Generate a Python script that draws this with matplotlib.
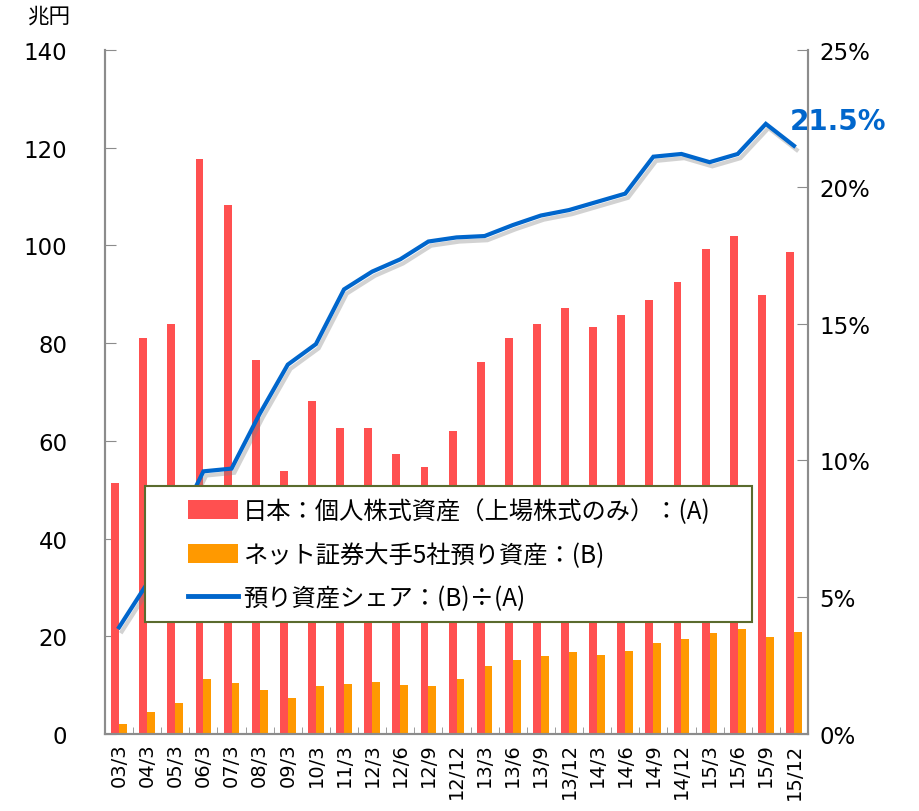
import numpy as np
import matplotlib
matplotlib.use('Agg')
import matplotlib.pyplot as plt
import matplotlib.patheffects as pe
from matplotlib.patches import Rectangle, Patch
from matplotlib.lines import Line2D

plt.rcParams['font.family'] = ['DejaVu Sans', 'Noto Sans CJK JP']

# データ
periods = ['03/3', '04/3', '05/3', '06/3', '07/3', '08/3', '09/3', '10/3', '11/3',
           '12/3', '12/6', '12/9', '12/12', '13/3', '13/6', '13/9', '13/12',
           '14/3', '14/6', '14/9', '14/12', '15/3', '15/6', '15/9', '15/12']
kojin_kabushiki = [51.4, 81.1, 83.9, 117.7, 108.3, 76.6, 53.8, 68.2, 62.6,
                   62.6, 57.3, 54.7, 62.0, 76.2, 81.0, 83.9, 87.1,
                   83.3, 85.7, 88.8, 92.6, 99.3, 101.9, 89.9, 98.6]
net_azukari = [2.0, 4.5, 6.3, 11.3, 10.5, 9.0, 7.4, 9.8, 10.2,
               10.6, 10.0, 9.8, 11.3, 14.0, 15.1, 15.9, 16.7,
               16.2, 16.9, 18.6, 19.4, 20.7, 21.4, 19.8, 20.9]
share_pct = [3.9, 5.5, 7.5, 9.6, 9.7, 11.7, 13.5, 14.25, 16.25,
             16.9, 17.35, 18.0, 18.15, 18.2, 18.6, 18.95, 19.15,
             19.45, 19.75, 21.1, 21.2, 20.9, 21.2, 22.3, 21.5]
last_label = '21.5%'

label_a = '日本：個人株式資産（上場株式のみ）：(A)'
label_b = 'ネット証券大手5社預り資産：(B)'
label_c = '預り資産シェア：(B)÷(A)'

RED = '#FF5050'
ORANGE = '#FF9900'
BLUE = '#0066CC'
GRAY = '#8C8C8C'

fig = plt.figure(figsize=(9.19, 8.12), dpi=100)
ax1 = fig.add_axes([105 / 919, 1 - 735 / 812, (808 - 105) / 919, (735 - 51) / 812])
ax2 = ax1.twinx()

x = np.arange(len(periods))
w = 0.28
ax1.bar(x - 0.14, kojin_kabushiki, width=w, color=RED, zorder=2)
ax1.bar(x + 0.14, net_azukari, width=w, color=ORANGE, zorder=2)

ax1.set_xlim(-0.5, len(periods) - 0.5)
ax1.set_ylim(0, 140)
ax1.set_yticks(np.arange(0, 141, 20))
ax1.set_xticks(x)
ax1.set_xticklabels(periods, rotation=90, fontsize=14)
ax1.set_xticks(np.arange(0.5, len(periods) - 0.5, 1), minor=True)
ax1.tick_params(axis='x', which='major', length=0, pad=6)
ax1.tick_params(axis='x', which='minor', length=5, direction='in', color=GRAY)
ax1.tick_params(axis='y', length=8, direction='in', color=GRAY, labelsize=16.5, pad=27)

line, = ax2.plot(x, share_pct, color=BLUE, lw=3, solid_joinstyle='miter', zorder=3)
line.set_path_effects([pe.SimpleLineShadow(offset=(2, -3), shadow_color='gray', alpha=0.35),
                       pe.Normal()])
ax2.set_ylim(0, 25)
ax2.set_yticks(np.arange(0, 26, 5))
ax2.set_yticklabels([f'{v}%' for v in range(0, 26, 5)])
ax2.tick_params(axis='y', length=8, direction='in', color=GRAY, labelsize=16.5, pad=8)

for ax in (ax1, ax2):
    ax.spines['top'].set_visible(False)
    for s in ('left', 'right', 'bottom'):
        ax.spines[s].set_color(GRAY)
        ax.spines[s].set_linewidth(1.5)

# 凡例
box = Rectangle((145 / 919, 1 - 623 / 812), (752 - 145) / 919, (623 - 487) / 812,
                transform=fig.transFigure, facecolor='white', edgecolor='#5A6B2E',
                linewidth=1.5, zorder=6)
ax2.add_patch(box)
handles = [Patch(facecolor=RED), Patch(facecolor=ORANGE), Line2D([], [], color=BLUE, lw=3.5)]
leg = ax2.legend(handles, [label_a, label_b, label_c], loc='upper left',
                 bbox_to_anchor=(176 / 919, 1 - 487 / 812), bbox_transform=fig.transFigure,
                 frameon=False, handlelength=2.05, handleheight=0.8,
                 handletextpad=0.2, labelspacing=0.72, borderpad=0,
                 prop={'family': ['Noto Sans CJK JP', 'DejaVu Sans'], 'size': 17.5})
leg.set_zorder(7)

fig.text(49 / 919, 1 - 17 / 812, '兆円', fontsize=15.5, ha='center', va='center',
         family=['Noto Sans CJK JP', 'DejaVu Sans'])
fig.text(790 / 919, 1 - 122 / 812, last_label, fontsize=20, fontweight='bold',
         color=BLUE, ha='left', va='center')

plt.savefig('out.png', dpi=100)
